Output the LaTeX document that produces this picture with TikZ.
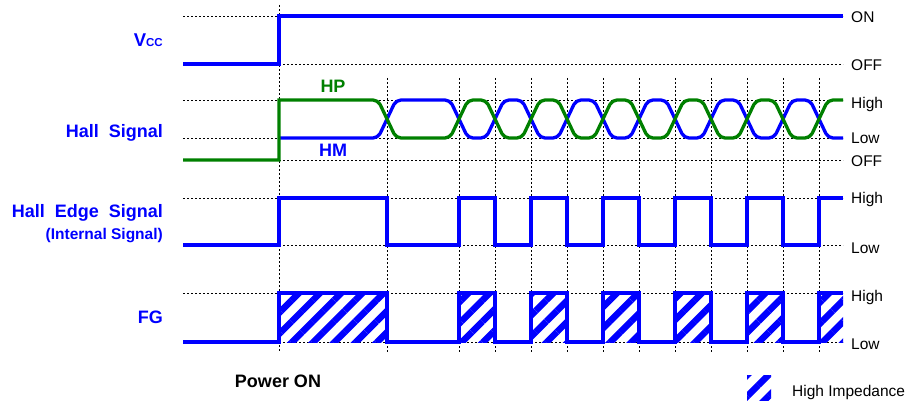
\documentclass[tikz,border=0pt]{standalone}
\usepackage{fontspec}
\setmainfont{Liberation Sans}
\usetikzlibrary{patterns.meta}
\definecolor{sigblue}{RGB}{0,0,255}
\definecolor{siggreen}{RGB}{0,128,0}

\begin{document}
\begin{tikzpicture}[x=1pt,y=-1pt,
    guide/.style={black,line width=0.6pt,dash pattern=on 2pt off 2pt},
    wave/.style={sigblue,line width=3.3pt},
    hiz/.style={pattern={Lines[angle=45,distance=15pt,line width=6.5pt]},pattern color=sigblue},
    signame/.style={sigblue,font=\bfseries\fontsize{18}{20}\selectfont,anchor=base east,inner sep=0pt},
    levelname/.style={font=\fontsize{15.5}{18}\selectfont,anchor=base west,inner sep=0pt}]

    \useasboundingbox (0,0) rectangle (908,401);

    % dotted guides
    \foreach \y in {16,64,100,138,160,198,245,293,342}
        \draw[guide] (183,\y) -- (843,\y);
    \draw[guide] (279,5) -- (279,352);
    \foreach \x in {387,459,495,...,819}
        \draw[guide] (\x,78) -- (\x,352);

    % high impedance areas of FG
    \fill[hiz] (279,293) rectangle (387,342);
    \foreach \x in {459,531,...,747}
        \fill[hiz] (\x,293) rectangle (\x+36,342);
    \fill[hiz] (819,293) rectangle (843,342);

    % Vcc
    \draw[wave] (183,64) -| (279,16) -- (843,16);

    % Hall signal: HM then HP
    \draw[wave,rounded corners=5pt] (279,138) -- (378,138) -- (396,100)
        \foreach \c in {459,531,...,747} { -- (\c-9,100) -- (\c+9,138) -- (\c+27,138) -- (\c+45,100) }
        -- (810,100) -- (828,138) -- (843,138);
    \draw[wave,siggreen] (183,160) -| (279,100) [rounded corners=5pt] -- (378,100) -- (396,138)
        \foreach \c in {459,531,...,747} { -- (\c-9,138) -- (\c+9,100) -- (\c+27,100) -- (\c+45,138) }
        -- (810,138) -- (828,100) -- (843,100);

    % Hall edge signal
    \draw[wave] (183,245) -| (279,198) -| (387,245) -| (459,198) -| (495,245)
        -| (531,198) -| (567,245) -| (603,198) -| (639,245) -| (675,198)
        -| (711,245) -| (747,198) -| (783,245) -| (819,198) -- (843,198);

    % FG
    \draw[wave] (183,342) -| (279,293) -| (387,342) -| (459,293) -| (495,342)
        -| (531,293) -| (567,342) -| (603,293) -| (639,342) -| (675,293)
        -| (711,342) -| (747,293) -| (783,342) -| (819,293) -- (843,293);

    % signal names
    \node[signame] (vcc) at (163,47) {{\fontsize{18.5}{20}\selectfont V}{\fontsize{11.5}{12}\selectfont CC}};
    \node[signame] (hall) at (163,138) {Hall\ \ Signal};
    \node[signame] (edge) at (163,217) {Hall\ \ Edge\ \ Signal};
    \node[signame,font=\bfseries\fontsize{15.5}{18}\selectfont] (internal) at (163,239) {(Internal Signal)};
    \node[signame] (fg) at (163,323) {FG};
    \node[signame,siggreen,anchor=base] (hp) at (333,93) {HP};
    \node[signame,anchor=base] (hm) at (333,157) {HM};
    \node[signame,black,anchor=base] (poweron) at (278,387) {Power ON};

    % level names
    \node[levelname] (vccon) at (851,23) {ON};
    \node[levelname] (vccoff) at (851,71) {OFF};
    \node[levelname] (hallhigh) at (851,109) {High};
    \node[levelname] (halllow) at (851,144) {Low};
    \node[levelname] (halloff) at (851,167) {OFF};
    \node[levelname] (edgehigh) at (851,204) {High};
    \node[levelname] (edgelow) at (851,253) {Low};
    \node[levelname] (fghigh) at (851,301) {High};
    \node[levelname] (fglow) at (851,349) {Low};

    % legend
    \fill[hiz] (747,375) rectangle (771,401);
    \node[levelname] (hizname) at (792,396) {High Impedance};
\end{tikzpicture}
\end{document}
